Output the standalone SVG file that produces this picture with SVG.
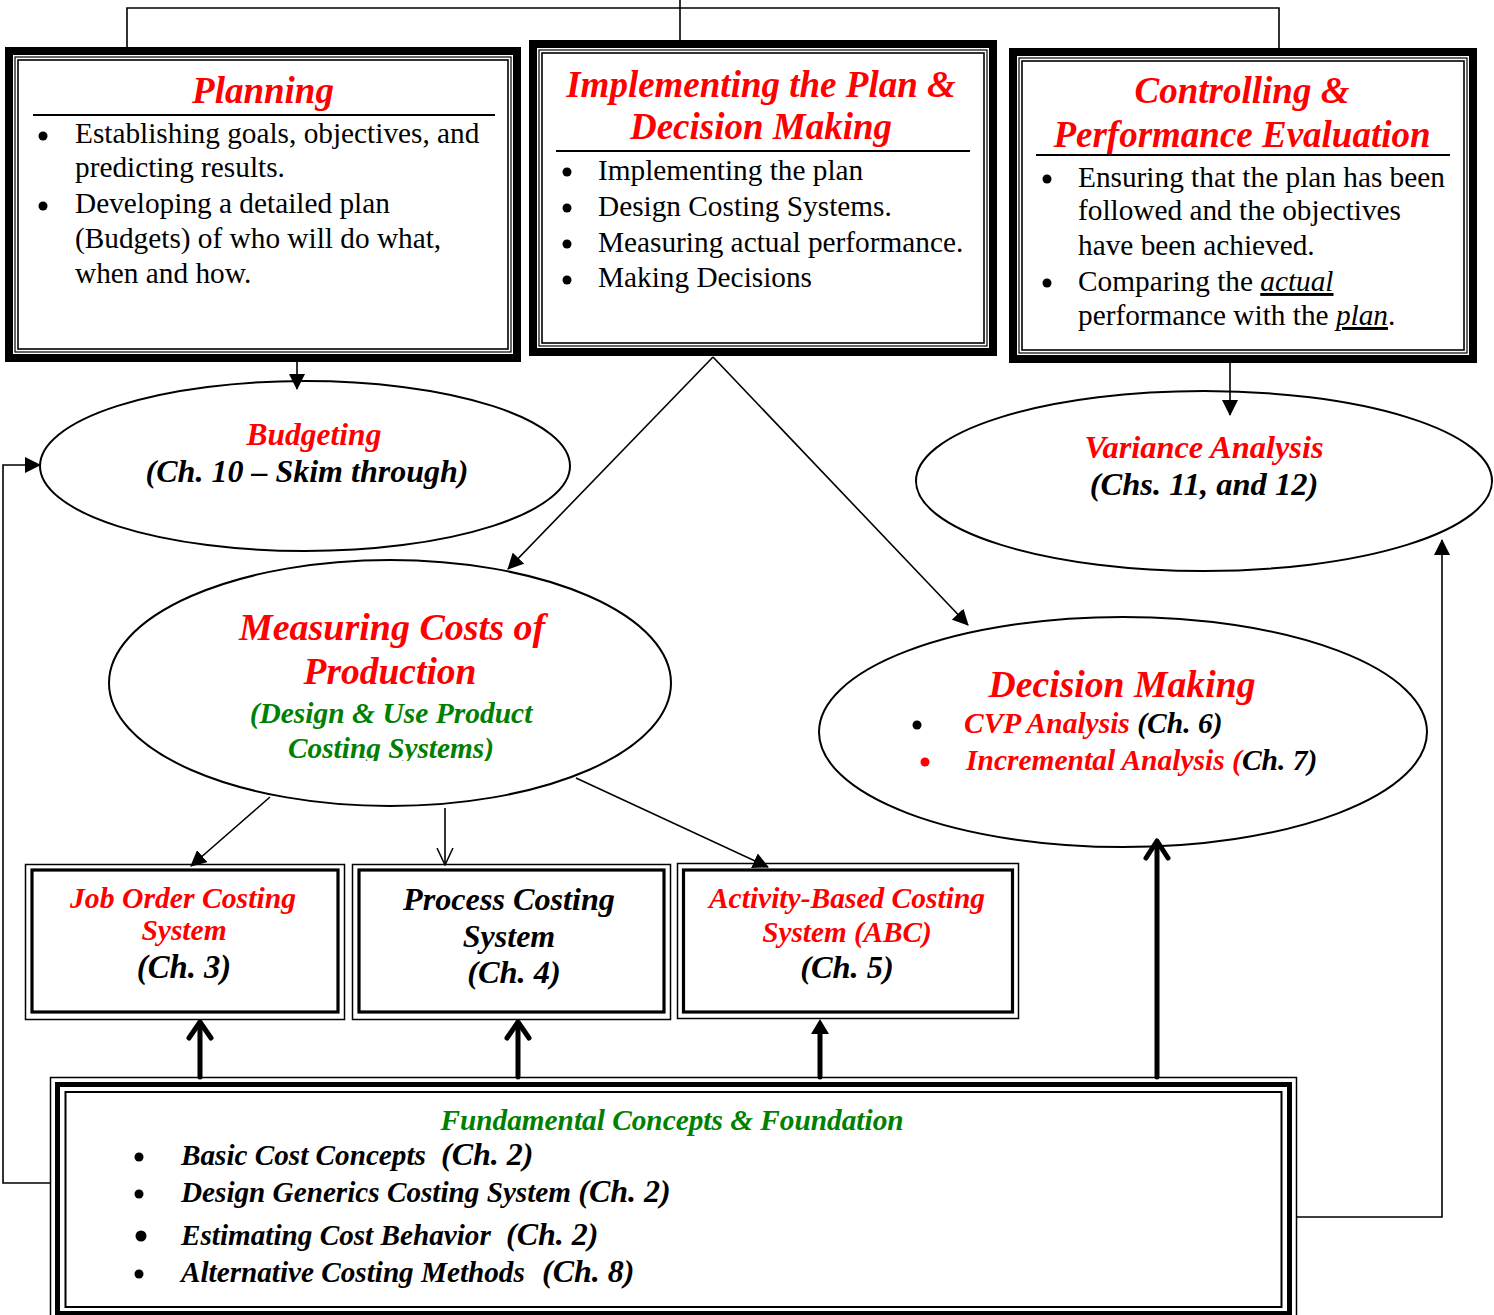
<svg xmlns="http://www.w3.org/2000/svg" width="1494" height="1315" viewBox="0 0 1494 1315">
<style>
text{font-family:"Liberation Serif","Times New Roman",serif;}
.bi{font-weight:bold;font-style:italic;}
.red{fill:#FF0000;}
.grn{fill:#008000;}
.blk{fill:#000;}
.body{font-size:29.3px;fill:#000;}
.thick{fill:none;stroke:#000;stroke-width:8;}
.thin{fill:none;stroke:#000;stroke-width:1.2;}
.thin2{fill:none;stroke:#000;stroke-width:1.6;}
.ell{fill:#fff;stroke:#000;stroke-width:2;}
.conn{fill:none;stroke:#000;stroke-width:1.6;}
.fat{fill:none;stroke:#000;stroke-width:5;stroke-linecap:round;stroke-linejoin:round;}
.mid{text-anchor:middle;}
.ch{font-size:32px;}
</style>
<defs>
<marker id="ah" viewBox="0 0 16 16" markerWidth="16" markerHeight="16" refX="15" refY="8" orient="auto" markerUnits="userSpaceOnUse">
<path d="M0,0 L16,8 L0,16 z" fill="#000"/>
</marker>
<marker id="av" viewBox="0 0 18 18" markerWidth="18" markerHeight="18" refX="17" refY="9" orient="auto" markerUnits="userSpaceOnUse">
<path d="M0,1 L17,9 L0,17" fill="none" stroke="#000" stroke-width="1.5"/>
</marker>
<clipPath id="clipM"><rect x="100" y="550" width="600" height="211"/></clipPath>
</defs>
<rect width="1494" height="1315" fill="#fff"/>

<g id="planning">
<rect class="thick" x="9" y="51" width="508" height="307"/>
<rect class="thin" x="15" y="57" width="496" height="295"/>
<rect class="thin2" x="18" y="60" width="490" height="289"/>
<text class="bi red mid" x="263" y="103" font-size="37">Planning</text>
<line x1="33" y1="115" x2="495" y2="115" stroke="#000" stroke-width="2"/>
<circle cx="43" cy="136" r="4.5"/>
<circle cx="43" cy="206" r="4.5"/>
<text class="body" x="75" y="143">Establishing goals, objectives, and</text>
<text class="body" x="75" y="177">predicting results.</text>
<text class="body" x="75" y="213">Developing a detailed plan</text>
<text class="body" x="75" y="248">(Budgets) of who will do what,</text>
<text class="body" x="75" y="283">when and how.</text>
</g>

<g id="implementing">
<rect class="thick" x="533" y="44" width="460" height="308"/>
<rect class="thin" x="539" y="50" width="448" height="296"/>
<rect class="thin2" x="542" y="53" width="442" height="290"/>
<text class="bi red mid" x="761" y="97" font-size="37">Implementing the Plan &amp;</text>
<text class="bi red mid" x="761" y="139" font-size="37">Decision Making</text>
<line x1="556" y1="151" x2="970" y2="151" stroke="#000" stroke-width="2"/>
<circle cx="567" cy="172" r="4.5"/>
<circle cx="567" cy="208" r="4.5"/>
<circle cx="567" cy="244" r="4.5"/>
<circle cx="567" cy="280" r="4.5"/>
<text class="body" x="598" y="180">Implementing the plan</text>
<text class="body" x="598" y="216">Design Costing Systems.</text>
<text class="body" x="598" y="252">Measuring actual performance.</text>
<text class="body" x="598" y="287">Making Decisions</text>
</g>

<g id="controlling">
<rect class="thick" x="1013" y="52" width="460" height="307"/>
<rect class="thin" x="1019" y="58" width="448" height="295"/>
<rect class="thin2" x="1022" y="61" width="442" height="289"/>
<text class="bi red mid" x="1242" y="103" font-size="37">Controlling &amp;</text>
<text class="bi red mid" x="1242" y="147" font-size="37">Performance Evaluation</text>
<line x1="1036" y1="155" x2="1450" y2="155" stroke="#000" stroke-width="2"/>
<circle cx="1047" cy="179" r="4.5"/>
<circle cx="1047" cy="283" r="4.5"/>
<text class="body" x="1078" y="187">Ensuring that the plan has been</text>
<text class="body" x="1078" y="220">followed and the objectives</text>
<text class="body" x="1078" y="255">have been achieved.</text>
<text class="body" x="1078" y="291">Comparing the <tspan font-style="italic" text-decoration="underline">actual</tspan></text>
<text class="body" x="1078" y="325">performance with the <tspan font-style="italic" text-decoration="underline">plan</tspan>.</text>
</g>

<g id="budgeting">
<ellipse class="ell" cx="305" cy="466" rx="265" ry="85"/>
<text class="bi red mid" x="314" y="445" font-size="31.5">Budgeting</text>
<text class="bi blk mid" x="307" y="482" font-size="32">(Ch. 10 – Skim through)</text>
</g>

<g id="variance">
<ellipse class="ell" cx="1204" cy="481" rx="288" ry="90"/>
<text class="bi red mid" x="1204" y="458" font-size="32.4">Variance Analysis</text>
<text class="bi blk mid" x="1204" y="495" font-size="32.5">(Chs. 11, and 12)</text>
</g>

<g id="measuring">
<ellipse class="ell" cx="390" cy="683" rx="281" ry="123"/>
<text class="bi red mid" x="392" y="640" font-size="38">Measuring Costs of</text>
<text class="bi red mid" x="390" y="684" font-size="37.5">Production</text>
<text class="bi grn mid" x="391" y="723" font-size="29.5">(Design &amp; Use Product</text>
<text class="bi grn mid" x="391" y="758" font-size="29.3" clip-path="url(#clipM)">Costing Systems)</text>
</g>

<g id="decision">
<ellipse class="ell" cx="1123" cy="732" rx="304" ry="115"/>
<text class="bi red mid" x="1122" y="697" font-size="37.7">Decision Making</text>
<circle cx="917" cy="725" r="4.5" fill="#000"/>
<text class="bi" x="964" y="733" font-size="29.5"><tspan class="red">CVP Analysis</tspan><tspan class="blk"> (Ch. 6)</tspan></text>
<circle cx="925" cy="762" r="4.5" fill="#FF0000"/>
<text class="bi" x="966" y="770" font-size="29.5"><tspan class="red">Incremental Analysis (</tspan><tspan class="blk">Ch. 7)</tspan></text>
</g>

<g id="joborder">
<rect x="25.5" y="864.5" width="319" height="155" fill="#fff" stroke="#000" stroke-width="1.5"/>
<rect x="32" y="870" width="306" height="142" fill="none" stroke="#000" stroke-width="3.2"/>
<text class="bi red mid" x="183" y="908" font-size="29.7">Job Order Costing</text>
<text class="bi red mid" x="184" y="940" font-size="29.5">System</text>
<text class="bi blk mid" x="184" y="978" font-size="32.7">(Ch. 3)</text>
</g>

<g id="process">
<rect x="352.5" y="864.5" width="318" height="155" fill="#fff" stroke="#000" stroke-width="1.5"/>
<rect x="359" y="870" width="305" height="142" fill="none" stroke="#000" stroke-width="3.2"/>
<text class="bi blk mid" x="509" y="910" font-size="32.2">Process Costing</text>
<text class="bi blk mid" x="509" y="947" font-size="32">System</text>
<text class="bi blk mid" x="514" y="983" font-size="32.4">(Ch. 4)</text>
</g>

<g id="abc">
<rect x="677.5" y="863.5" width="341" height="155" fill="#fff" stroke="#000" stroke-width="1.5"/>
<rect x="683.5" y="870" width="329" height="142" fill="none" stroke="#000" stroke-width="3.2"/>
<text class="bi red mid" x="847" y="908" font-size="29.5">Activity-Based Costing</text>
<text class="bi red mid" x="847" y="942" font-size="29.2">System (ABC)</text>
<text class="bi blk mid" x="847" y="978" font-size="32.4">(Ch. 5)</text>
</g>

<g id="fundamental">
<rect x="50.5" y="1077.5" width="1246" height="250" fill="#fff" stroke="#000" stroke-width="1.5"/>
<rect x="57.5" y="1084.5" width="1232" height="229" fill="none" stroke="#000" stroke-width="5"/>
<rect x="65.5" y="1092" width="1216" height="215" fill="none" stroke="#000" stroke-width="2"/>
<text class="bi grn mid" x="672" y="1130" font-size="29.3">Fundamental Concepts &amp; Foundation</text>
<circle cx="139" cy="1157" r="4.5"/>
<circle cx="139" cy="1194" r="4.5"/>
<circle cx="141" cy="1236" r="5.5"/>
<circle cx="139" cy="1274" r="4.5"/>
<text class="bi blk" x="181" y="1165" font-size="29.2">Basic Cost Concepts<tspan class="ch" x="441">(Ch. 2)</tspan></text>
<text class="bi blk" x="181" y="1202" font-size="29.2">Design Generics Costing System <tspan class="ch">(Ch. 2)</tspan></text>
<text class="bi blk" x="181" y="1245" font-size="29.2">Estimating Cost Behavior<tspan class="ch" x="506">(Ch. 2)</tspan></text>
<text class="bi blk" x="181" y="1282" font-size="29.2">Alternative Costing Methods<tspan class="ch" x="542">(Ch. 8)</tspan></text>
</g>

<g id="connectors">
<path class="conn" d="M127,47 V8 H1279 V48"/>
<path class="conn" d="M680,0 V40"/>
<line class="conn" x1="297" y1="362" x2="297" y2="389" marker-end="url(#ah)"/>
<line class="conn" x1="1230" y1="363" x2="1230" y2="415" marker-end="url(#ah)"/>
<line class="conn" x1="713" y1="357" x2="508" y2="569" marker-end="url(#ah)"/>
<line class="conn" x1="713" y1="357" x2="968" y2="625" marker-end="url(#ah)"/>
<line class="conn" x1="270" y1="797" x2="191" y2="866" marker-end="url(#ah)"/>
<line class="conn" x1="445" y1="808" x2="445" y2="865" marker-end="url(#av)"/>
<line class="conn" x1="576" y1="778" x2="768" y2="867" marker-end="url(#ah)"/>
<path class="conn" d="M50,1183 H3 V465 H40" marker-end="url(#ah)"/>
<path class="conn" d="M1297,1217 H1442 V540" marker-end="url(#ah)"/>
<line class="fat" x1="200" y1="1077" x2="200" y2="1023"/>
<polyline class="fat" points="189,1038 200,1022 211,1038"/>
<line class="fat" x1="518" y1="1077" x2="518" y2="1023"/>
<polyline class="fat" points="507,1038 518,1022 529,1038"/>
<line class="fat" x1="820" y1="1077" x2="820" y2="1032"/>
<path d="M811,1034 L820,1019 L829,1034 z" fill="#000"/>
<line class="fat" x1="1157" y1="1077" x2="1157" y2="842"/>
<polyline class="fat" points="1146,858 1157,841 1168,858"/>
</g>
</svg>
